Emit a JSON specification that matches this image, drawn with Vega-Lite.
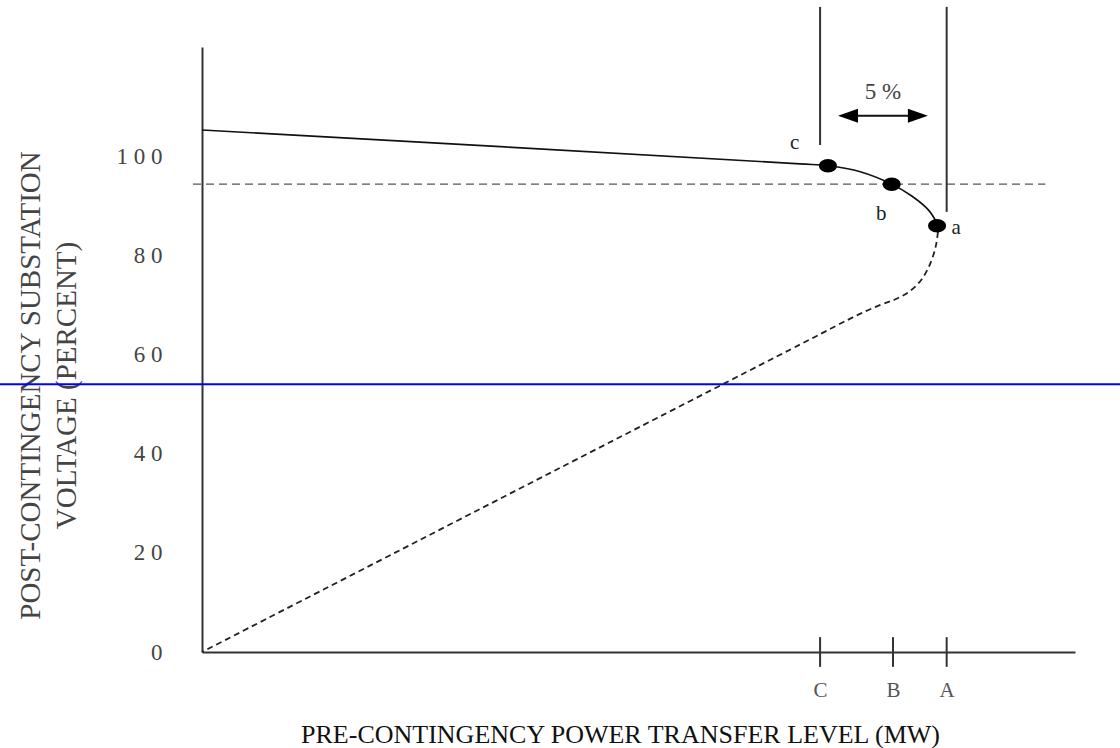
{
  "$schema": "https://vega.github.io/schema/vega-lite/v6.json",
  "autosize": {"type": "none"},
  "padding": {"left": 202, "top": 47, "right": 45, "bottom": 96},
  "width": 873,
  "height": 605,
  "background": "white",
  "config": {"view": {"stroke": null}, "font": "Liberation Serif"},
  "datasets": {
    "solid": [
      {"i": 0, "x": 0, "y": 105.45},
      {"i": 1, "x": 68.5, "y": 98.6},
      {"i": 2, "x": 71.7, "y": 98.2},
      {"i": 3, "x": 75.4, "y": 97.0},
      {"i": 4, "x": 79.0, "y": 94.5},
      {"i": 5, "x": 81.3, "y": 92.1},
      {"i": 6, "x": 83.2, "y": 89.3},
      {"i": 7, "x": 84.2, "y": 86.6}
    ],
    "dashed": [
      {"i": 0, "x": 84.3, "y": 84.85},
      {"i": 1, "x": 84.08, "y": 82.2},
      {"i": 2, "x": 83.5, "y": 78.8},
      {"i": 3, "x": 82.47, "y": 75.35},
      {"i": 4, "x": 81.1, "y": 72.9},
      {"i": 5, "x": 79.5, "y": 71.3},
      {"i": 6, "x": 77.7, "y": 70.1},
      {"i": 7, "x": 75.37, "y": 68.3},
      {"i": 8, "x": 68.5, "y": 62.1},
      {"i": 9, "x": 0, "y": 0}
    ],
    "dots": [
      {"name": "c", "x": 71.7, "y": 98.2, "lx": 67.9, "ly": 102.8},
      {"name": "b", "x": 79.0, "y": 94.5, "lx": 77.8, "ly": 88.5},
      {"name": "a", "x": 84.2, "y": 86.1, "lx": 86.4, "ly": 85.7}
    ],
    "levels": [
      {"name": "C", "x": 70.8, "top": 130.3, "bottom": 102.4},
      {"name": "B", "x": 79.15},
      {"name": "A", "x": 85.3, "top": 130.3, "bottom": 88.9}
    ],
    "limit": [{"x": -1.03, "x2": 96.6, "y": 94.5}],
    "blue": [{"x": -23.2, "x2": 105.2, "y": 54.1}],
    "arrow": [{"x": 74.2, "x2": 81.8, "y": 108.3}],
    "heads": [
      {"side": "left", "x": 74.0, "y": 108.3},
      {"side": "right", "x": 82.0, "y": 108.3}
    ],
    "note": [{"text": "5 %", "x": 78.0, "y": 113.2}]
  },
  "layer": [
    {
      "data": {"name": "limit"},
      "mark": {"type": "rule", "color": "#555", "strokeWidth": 1.3, "strokeDash": [8, 5]},
      "encoding": {
        "x": {"field": "x", "type": "quantitative", "scale": {"domain": [0, 100], "nice": false, "zero": false},
          "axis": {
            "values": [70.8, 79.15, 85.3],
            "labelExpr": "datum.value < 75 ? 'C' : datum.value < 82 ? 'B' : 'A'",
            "ticks": false, "grid": false,
            "domainColor": "#333", "domainWidth": 2,
            "labelFont": "Liberation Serif", "labelFontSize": 21, "labelColor": "#555",
            "labelPadding": 27,
            "title": "PRE-CONTINGENCY  POWER TRANSFER LEVEL (MW)",
            "titleFont": "Liberation Serif", "titleFontSize": 26, "titleFontWeight": "normal", "titleColor": "#111",
            "titleX": 418, "titleY": 90, "titleAlign": "center", "titleBaseline": "alphabetic"
          }},
        "x2": {"field": "x2"},
        "y": {"field": "y", "type": "quantitative", "scale": {"domain": [0, 122.2], "nice": false, "zero": false},
          "axis": {
            "values": [0, 20, 40, 60, 80, 100],
            "labelExpr": "datum.value == 100 ? '1 0 0' : datum.value == 0 ? '0' : substring(datum.label, 0, 1) + ' 0'",
            "ticks": false, "grid": false,
            "domainColor": "#333", "domainWidth": 2,
            "labelFont": "Liberation Serif", "labelFontSize": 23, "labelColor": "#444",
            "labelPadding": 40,
            "title": ["POST-CONTINGENCY SUBSTATION", "VOLTAGE  (PERCENT)"],
            "titleFont": "Liberation Serif", "titleFontSize": 29, "titleFontWeight": "normal", "titleColor": "#444",
            "titleAngle": 270, "titleX": -186, "titleY": 338, "titleAlign": "center", "titleBaseline": "top",
            "titleLineHeight": 36
          }}
      }
    },
    {
      "data": {"name": "blue"},
      "mark": {"type": "rule", "color": "#0000ff", "strokeWidth": 2},
      "encoding": {
        "x": {"field": "x", "type": "quantitative"},
        "x2": {"field": "x2"},
        "y": {"field": "y", "type": "quantitative"}
      }
    },
    {
      "data": {"name": "levels"},
      "transform": [{"filter": "datum.top != null"}],
      "mark": {"type": "rule", "color": "#333", "strokeWidth": 2},
      "encoding": {
        "x": {"field": "x", "type": "quantitative"},
        "y": {"field": "bottom", "type": "quantitative"},
        "y2": {"field": "top"}
      }
    },
    {
      "data": {"name": "levels"},
      "transform": [{"calculate": "-3", "as": "lo"}, {"calculate": "3", "as": "hi"}],
      "mark": {"type": "rule", "color": "#333", "strokeWidth": 2},
      "encoding": {
        "x": {"field": "x", "type": "quantitative"},
        "y": {"field": "lo", "type": "quantitative"},
        "y2": {"field": "hi"}
      }
    },
    {
      "data": {"name": "solid"},
      "mark": {"type": "line", "color": "#111", "strokeWidth": 1.6, "interpolate": "catmull-rom"},
      "encoding": {
        "x": {"field": "x", "type": "quantitative"},
        "y": {"field": "y", "type": "quantitative"},
        "order": {"field": "i"}
      }
    },
    {
      "data": {"name": "dashed"},
      "mark": {"type": "line", "color": "#222", "strokeWidth": 1.8, "strokeDash": [6, 4], "interpolate": "catmull-rom"},
      "encoding": {
        "x": {"field": "x", "type": "quantitative"},
        "y": {"field": "y", "type": "quantitative"},
        "order": {"field": "i"}
      }
    },
    {
      "data": {"name": "dots"},
      "mark": {"type": "point", "filled": true, "color": "#000", "opacity": 1, "size": 324,
        "shape": "M-1,0A1,0.75,0,1,1,1,0A1,0.75,0,1,1,-1,0Z"},
      "encoding": {
        "x": {"field": "x", "type": "quantitative"},
        "y": {"field": "y", "type": "quantitative"}
      }
    },
    {
      "data": {"name": "dots"},
      "mark": {"type": "text", "font": "Liberation Serif", "fontSize": 21, "color": "#222", "align": "center", "baseline": "middle"},
      "encoding": {
        "x": {"field": "lx", "type": "quantitative"},
        "y": {"field": "ly", "type": "quantitative"},
        "text": {"field": "name"}
      }
    },
    {
      "data": {"name": "arrow"},
      "mark": {"type": "rule", "color": "#111", "strokeWidth": 2},
      "encoding": {
        "x": {"field": "x", "type": "quantitative"},
        "x2": {"field": "x2"},
        "y": {"field": "y", "type": "quantitative"}
      }
    },
    {
      "data": {"name": "heads"},
      "transform": [{"filter": "datum.side == 'left'"}],
      "mark": {"type": "point", "filled": true, "color": "#000", "opacity": 1, "size": 400, "shape": "M-1,0L1,-0.7L1,0.7Z"},
      "encoding": {
        "x": {"field": "x", "type": "quantitative"},
        "y": {"field": "y", "type": "quantitative"}
      }
    },
    {
      "data": {"name": "heads"},
      "transform": [{"filter": "datum.side == 'right'"}],
      "mark": {"type": "point", "filled": true, "color": "#000", "opacity": 1, "size": 400, "shape": "M1,0L-1,-0.7L-1,0.7Z"},
      "encoding": {
        "x": {"field": "x", "type": "quantitative"},
        "y": {"field": "y", "type": "quantitative"}
      }
    },
    {
      "data": {"name": "note"},
      "mark": {"type": "text", "font": "Liberation Serif", "fontSize": 23, "color": "#444", "align": "center", "baseline": "middle"},
      "encoding": {
        "x": {"field": "x", "type": "quantitative"},
        "y": {"field": "y", "type": "quantitative"},
        "text": {"field": "text"}
      }
    }
  ]
}
